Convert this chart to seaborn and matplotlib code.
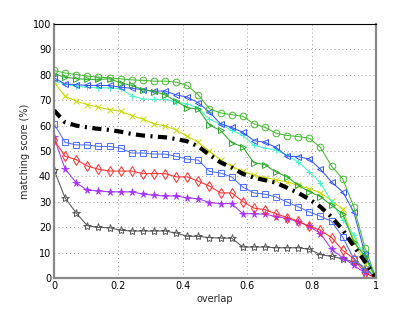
import numpy as np
import pandas as pd
import matplotlib
matplotlib.use("Agg")
import matplotlib.pyplot as plt
import seaborn as sns

overlap = np.linspace(0, 1, 30)

green_circle = [81.7, 80.7, 80.1, 79.5, 79.1, 78.8, 78.4, 78.0, 77.8, 77.5, 77.5, 77.1, 75.8, 72.1, 66.6,
                65.0, 64.3, 63.7, 60.7, 59.3, 57.0, 56.1, 55.7, 55.0, 51.4, 44.0, 39.1, 28.0, 12.0, 0]
green_tri = [80.5, 79.0, 78.5, 78.2, 78.2, 78.4, 76.8, 75.8, 74.2, 73.4, 72.1, 69.6, 67.0, 66.5, 60.2,
             58.1, 53.3, 51.6, 45.4, 44.6, 41.7, 39.8, 36.5, 34.0, 32.0, 28.6, 25.3, 14.2, 8.5, 0]
blue_tri = [78.8, 76.4, 76.1, 75.8, 75.8, 75.8, 75.1, 74.7, 74.1, 73.6, 73.6, 72.1, 71.2, 69.0, 65.3,
            60.7, 59.3, 57.4, 54.1, 53.4, 51.4, 47.9, 47.8, 46.8, 42.8, 37.8, 33.9, 26.0, 9.6, 0]
cyan_plus = [77.5, 76.4, 75.4, 75.1, 74.9, 74.9, 74.5, 71.8, 70.5, 70.3, 70.3, 69.2, 68.6, 66.8, 62.5,
             60.5, 58.1, 56.2, 52.2, 51.2, 50.3, 48.3, 45.7, 41.7, 37.5, 30.0, 23.0, 17.0, 8.0, 0]
yellow_x = [77.1, 71.6, 69.6, 68.3, 67.2, 66.3, 65.7, 63.9, 62.6, 60.7, 59.9, 58.3, 55.8, 53.4, 49.9,
            46.5, 44.0, 42.0, 40.5, 39.5, 38.7, 37.8, 36.5, 35.2, 33.5, 30.5, 27.0, 15.0, 5.6, 0]
mean_curve = [66.0, 61.3, 60.0, 59.3, 58.7, 58.3, 57.6, 56.7, 56.1, 55.7, 55.4, 54.7, 53.8, 51.8, 48.5,
              45.5, 43.5, 41.0, 39.5, 38.5, 37.5, 35.5, 33.5, 31.0, 28.0, 24.0, 19.0, 12.5, 6.5, 0]
blue_square = [60.7, 53.4, 52.4, 52.4, 51.8, 51.8, 51.1, 49.2, 49.2, 48.8, 48.8, 47.9, 46.8, 46.4, 42.0,
               41.3, 39.8, 35.8, 33.5, 33.0, 31.9, 29.9, 28.0, 26.0, 24.3, 22.3, 16.1, 7.6, 3.7, 0]
red_diamond = [54.3, 47.9, 46.6, 44.1, 42.8, 42.1, 42.1, 42.1, 41.1, 41.1, 41.1, 39.8, 39.8, 38.1, 36.2,
               33.5, 33.5, 30.1, 27.5, 26.9, 25.3, 23.8, 22.4, 20.3, 18.8, 15.9, 10.9, 7.6, 2.0, 0]
purple_star = [55.4, 43.0, 37.5, 34.5, 34.3, 33.9, 33.9, 33.9, 33.1, 32.5, 32.3, 32.3, 31.5, 31.2, 29.7,
               29.3, 29.3, 25.3, 25.3, 25.1, 24.2, 23.4, 22.2, 20.3, 17.5, 11.3, 8.0, 5.0, 2.0, 0]
gray_pent = [42.6, 31.5, 25.6, 20.6, 19.9, 19.8, 18.8, 18.5, 18.5, 18.5, 18.5, 17.7, 16.4, 16.4, 15.9,
             15.7, 15.7, 12.2, 12.2, 12.2, 11.9, 11.9, 11.9, 11.3, 9.2, 8.5, 7.6, 6.3, 4.3, 0]

x_ticks = [0, 0.2, 0.4, 0.6, 0.8, 1]
x_tick_labels = ["0", "0.2", "0.4", "0.6", "0.8", "1"]
y_ticks = list(range(0, 101, 10))

series = [
    (gray_pent, "#555555", "*"),
    (purple_star, "#a633ff", "ast"),
    (red_diamond, "#ff2a2a", "d"),
    (blue_square, "#4d6fff", "s"),
    (yellow_x, "#c8d800", "x"),
    (cyan_plus, "#44f5c8", "+"),
    (blue_tri, "#3355ff", "<"),
    (green_tri, "#2aa82a", ">"),
    (green_circle, "#44bb2e", "o"),
]

sns.set_style("white")
fig = plt.figure(figsize=(4.15, 3.13), dpi=100)
ax = fig.add_axes([54 / 415, 1 - 278 / 313, 322 / 415, 254 / 313])

for vals, col, mk in series:
    df = pd.DataFrame({"overlap": overlap, "score": vals})
    kw = dict(marker=mk, markersize=4.8, markerfacecolor="none", markeredgecolor=col,
              markeredgewidth=0.7)
    if mk in ("x", "+"):
        kw["markersize"] = 4.5
    if mk == "*":
        kw["markersize"] = 6
    if mk == "ast":
        kw = dict(marker="*", markersize=5.5, markerfacecolor=col, markeredgecolor=col,
                  markeredgewidth=0.5)
    sns.lineplot(data=df, x="overlap", y="score", ax=ax, color=col, linewidth=0.75,
                 estimator=None, sort=False, **kw)

df = pd.DataFrame({"overlap": overlap, "score": mean_curve})
sns.lineplot(data=df, x="overlap", y="score", ax=ax, color="black", linewidth=3.0,
             estimator=None, sort=False, dashes=False)
ax.lines[-1].set_dashes([2.2, 1.3, 0.5, 1.3])

ax.set_xlim(0, 1)
ax.set_ylim(0, 100)
ax.set_xticks(x_ticks)
ax.set_xticklabels(x_tick_labels)
ax.set_yticks(y_ticks)
ax.grid(True, linestyle=(0, (1, 3)), color="#999999", linewidth=0.7)
ax.tick_params(direction="in", length=3, labelsize=7, pad=2, colors="black")
ax.set_xlabel("overlap", fontsize=7, labelpad=2)
ax.set_ylabel("matching score (%)", fontsize=7, labelpad=2)
for s in ["left", "bottom", "right"]:
    ax.spines[s].set_color("#888888")
    ax.spines[s].set_linewidth(1.6)
ax.spines["top"].set_color("black")
ax.spines["top"].set_linewidth(0.8)

fig.savefig("out.png", dpi=100)
